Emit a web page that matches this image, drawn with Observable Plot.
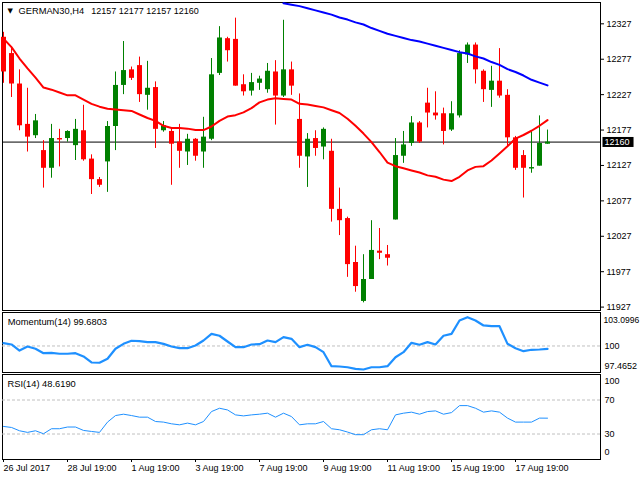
<!DOCTYPE html>
<html><head><meta charset="utf-8">
<script src="https://cdn.jsdelivr.net/npm/d3@7"></script>
<script src="https://cdn.jsdelivr.net/npm/@observablehq/plot@0.6"></script>
<style>
body{margin:0;background:#fff;}
#chart{position:relative;width:640px;height:480px;overflow:hidden;background:#fff;}
#chart svg{position:absolute;left:0;}
</style></head><body><div id="chart"></div>
<script>
const symbol = "GERMAN30,H4";
const opens  = [12308,12285,12242,12185,12169,12148,12123,12165,12165,12155,12176,12136,12107,12132,12182,12240,12262,12268,12226,12237,12176,12175,12160,12146,12164,12146,12164,12257,12306,12305,12241,12232,12243,12234,12259,12225,12262,12192,12139,12165,12153,12147,12065,12052,11990,11935,11966,12006,12001,12050,12140,12158,12187,12215,12201,12200,12177,12197,12283,12297,12260,12233,12246,12226,12166,12141,12122,12126,12157];
const highs  = [12315,12294,12262,12236,12199,12162,12185,12178,12176,12192,12212,12142,12110,12189,12259,12302,12266,12280,12274,12245,12189,12180,12185,12171,12165,12195,12278,12323,12308,12335,12255,12257,12253,12271,12275,12332,12273,12228,12172,12176,12180,12164,12095,12054,12013,12001,12049,12038,12014,12165,12175,12196,12189,12236,12231,12208,12217,12289,12300,12300,12262,12267,12292,12234,12168,12148,12176,12197,12177];
const lows   = [12243,12223,12176,12146,12165,12095,12109,12125,12160,12134,12133,12086,12096,12089,12148,12227,12247,12216,12205,12151,12174,12099,12123,12127,12133,12123,12162,12254,12273,12239,12225,12225,12233,12229,12184,12223,12226,12123,12096,12140,12135,12047,12028,11969,11948,11933,11966,11994,11985,12050,12130,12154,12158,12180,12191,12156,12175,12194,12271,12242,12216,12209,12222,12153,12120,12081,12116,12126,12157];
const closes = [12259,12242,12183,12167,12190,12123,12165,12163,12175,12178,12135,12107,12099,12182,12240,12261,12250,12227,12236,12178,12183,12157,12147,12164,12140,12167,12255,12307,12289,12239,12231,12244,12249,12260,12225,12262,12239,12140,12164,12151,12178,12065,12049,11987,11956,11966,12007,12003,11996,12141,12156,12187,12160,12201,12197,12175,12200,12285,12297,12262,12234,12246,12225,12166,12123,12123,12124,12158,12160];
const maFast = [12306,12294,12278,12264,12251,12237,12234,12230,12226,12226,12220,12214,12210,12207,12206,12205,12204,12199,12194,12190,12183,12180,12180,12179,12177,12177,12182,12190,12196,12198,12202,12208,12216,12220,12222,12221,12220,12214,12213,12211,12209,12205,12201,12193,12183,12172,12160,12146,12131,12126,12123,12120,12117,12113,12111,12107,12105,12111,12120,12125,12126,12134,12144,12154,12165,12170,12176,12183,12191];
const maSlow = [null,null,null,null,null,null,null,null,null,null,null,null,null,null,null,null,null,null,null,null,null,null,null,null,null,null,null,null,null,null,null,null,null,null,null,12356,12354,12352,12349,12346,12343,12340,12336,12333,12329,12326,12321,12317,12313,12310,12307,12304,12302,12299,12296,12293,12290,12287,12285,12281,12278,12273,12269,12263,12259,12254,12248,12244,12240];
const momentum = [100.30,100.16,99.51,99.94,99.70,99.22,99.26,99.16,99.16,99.22,98.87,98.22,98.19,98.62,99.70,100.23,100.56,100.52,100.41,100.41,100.23,99.94,99.76,99.76,100.05,100.59,101.31,101.10,100.48,99.87,99.87,100.16,100.19,100.59,100.41,100.95,100.77,99.87,100.13,99.87,99.33,97.82,97.79,97.71,97.54,97.4652,97.71,97.71,97.82,98.79,99.33,100.34,100.13,100.41,100.16,101.10,101.31,102.75,103.0996,102.75,102.21,102.13,102.13,100.23,99.76,99.44,99.59,99.62,99.6803];
const rsi = [38.9,37.7,33.8,31.9,33.8,30.3,36.2,36.2,38.2,38.2,34.2,33.0,31.9,44.0,51.7,53.3,51.7,49.8,49.8,44.7,44.0,42.0,40.8,42.8,40.8,44.7,56.4,60.3,58.3,52.5,51.3,52.5,53.3,54.5,49.8,54.5,50.5,40.8,42.0,42.0,44.7,36.2,35.0,32.3,29.2,29.2,35.0,36.2,35.0,52.5,54.5,55.7,53.3,56.4,57.2,53.3,55.2,63.4,63.4,60.3,55.7,57.2,55.7,48.7,44.0,44.0,44.0,48.7,48.619];
const priceTicks = [11927,11977,12027,12077,12127,12177,12227,12277,12327];
const xTickIndex = [0,8,16,24,32,40,48,56,64];
const xTickLabels = ["26 Jul 2017","28 Jul 19:00","1 Aug 19:00","3 Aug 19:00","7 Aug 19:00","9 Aug 19:00","11 Aug 19:00","15 Aug 19:00","17 Aug 19:00"];

const FONT = '"Liberation Sans", Arial, sans-serif';
const RED = "#ff0000", GREEN = "#008000", BLUE = "#0000ff", IND = "#1e90ff", GRID = "#c0c0c0";
const xDomain = [-0.125, 74.625];

const bars = opens.map((o, i) => ({i, open: o, high: highs[i], low: lows[i], close: closes[i], up: closes[i] >= o}));
const upBars = bars.filter(d => d.up), downBars = bars.filter(d => !d.up);
const fastPts = maFast.map((v, i) => ({i, v}));
const slowPts = maSlow.map((v, i) => ({i, v})).filter(d => d.v != null);
const momPts = momentum.map((v, i) => ({i, v}));
const rsiPts = rsi.map((v, i) => ({i, v}));
const last = bars[bars.length - 1];
const momMax = d3.max(momentum), momMin = d3.min(momentum);

const baseStyle = {fontFamily: FONT, fontSize: "9px", background: "white", color: "black", overflow: "visible"};
const host = document.getElementById("chart");

// ---------- main price panel ----------
const main = Plot.plot({
  width: 640, height: 312, marginLeft: 2, marginRight: 40, marginTop: 2, marginBottom: 2,
  style: baseStyle,
  x: {domain: xDomain, axis: null},
  y: {domain: [11922.2, 12357.1], axis: null},
  marks: [
    Plot.frame({stroke: "black"}),
    Plot.ruleY([last.close], {stroke: "black"}),
    Plot.ruleX(upBars, {x: "i", y1: "low", y2: "high", stroke: GREEN}),
    Plot.ruleX(downBars, {x: "i", y1: "low", y2: "high", stroke: RED}),
    Plot.ruleX(upBars, {x: "i", y1: "open", y2: "close", stroke: GREEN, strokeWidth: 5}),
    Plot.ruleX(downBars, {x: "i", y1: "open", y2: "close", stroke: RED, strokeWidth: 5}),
    Plot.line(fastPts, {x: "i", y: "v", stroke: RED, strokeWidth: 2}),
    Plot.line(slowPts, {x: "i", y: "v", stroke: BLUE, strokeWidth: 2, clip: true}),
    Plot.axisY({anchor: "right", ticks: priceTicks, tickSize: 3, tickPadding: 3, tickFormat: d => String(d), fontSize: 9, label: null}),
    Plot.text([last.close], {y: d => d, text: d => String(d), frameAnchor: "right", dx: 4, textAnchor: "start", fill: "white", fontSize: 9}),
    Plot.text(["\u25BC"], {text: d => d, frameAnchor: "top-left", dx: 7.7, dy: 8.6, lineAnchor: "middle", textAnchor: "middle", fontSize: 7, fontFamily: "DejaVu Sans"}),
    Plot.text([symbol], {text: d => d, frameAnchor: "top-left", dx: 16, dy: 8.3, lineAnchor: "middle", textAnchor: "start", fontSize: 9.3}),
    Plot.text([`${last.open} ${last.high} ${last.low} ${last.close}`], {text: d => d, frameAnchor: "top-left", dx: 88.7, dy: 8.3, lineAnchor: "middle", textAnchor: "start", fontSize: 9})
  ]
});
main.style.top = "0px";
host.append(main);
// black box behind the current price label (the white text)
{
  const t = Array.from(main.querySelectorAll("text")).find(el => el.textContent === String(last.close) && el.closest('g[fill="white"]'));
  if (t) {
    const bb = t.getBBox();
    const r = document.createElementNS("http://www.w3.org/2000/svg", "rect");
    const tr = t.getAttribute("transform");
    if (tr) r.setAttribute("transform", tr);
    r.setAttribute("x", bb.x - 2);
    r.setAttribute("width", bb.width + 6);
    r.setAttribute("y", bb.y + bb.height / 2 - 5);
    r.setAttribute("height", 10);
    r.setAttribute("fill", "black");
    t.parentNode.insertBefore(r, t);
  }
}

// ---------- momentum panel ----------
const mom = Plot.plot({
  width: 640, height: 62, marginLeft: 2, marginRight: 40, marginTop: 1, marginBottom: 1,
  style: baseStyle,
  x: {domain: xDomain, axis: null},
  y: {domain: [97.142, 103.606], axis: null},
  marks: [
    Plot.frame({stroke: "black"}),
    Plot.ruleY([100], {stroke: GRID, strokeDasharray: "3,2"}),
    Plot.line(momPts, {x: "i", y: "v", stroke: IND, strokeWidth: 2.2}),
    Plot.text([momMax], {y: d => d, text: d => d.toFixed(4), frameAnchor: "right", dx: 3, dy: 3.3, textAnchor: "start", fontSize: 8.6}),
    Plot.text([100], {y: d => d, text: d => String(d), frameAnchor: "right", dx: 4, textAnchor: "start", fontSize: 9}),
    Plot.text([momMin], {y: d => d, text: d => d.toFixed(4), frameAnchor: "right", dx: 4, dy: -3.7, textAnchor: "start", fontSize: 9}),
    Plot.text([`Momentum(14) ${momentum[momentum.length - 1].toFixed(4)}`], {text: d => d, frameAnchor: "top-left", dx: 5.3, dy: 9.7, lineAnchor: "middle", textAnchor: "start", fontSize: 9.3})
  ]
});
mom.style.top = "311px";
host.append(mom);

// ---------- RSI panel ----------
const rsiPlot = Plot.plot({
  width: 640, height: 107, marginLeft: 2, marginRight: 40, marginTop: 1, marginBottom: 21,
  style: baseStyle,
  x: {domain: xDomain, axis: null},
  y: {domain: [0, 100], axis: null},
  marks: [
    Plot.frame({stroke: "black"}),
    Plot.ruleY([70, 30], {stroke: GRID, strokeDasharray: "3,2"}),
    Plot.line(rsiPts, {x: "i", y: "v", stroke: IND, strokeWidth: 1}),
    Plot.text([100], {y: d => d, text: d => String(d), frameAnchor: "right", dx: 4, dy: 7, textAnchor: "start", fontSize: 9}),
    Plot.text([70, 30], {y: d => d, text: d => String(d), frameAnchor: "right", dx: 4, textAnchor: "start", fontSize: 9}),
    Plot.text([0], {y: d => d, text: d => String(d), frameAnchor: "right", dx: 4, dy: -7, textAnchor: "start", fontSize: 9}),
    Plot.text([`RSI(14) ${rsi[rsi.length - 1].toFixed(4)}`], {text: d => d, frameAnchor: "top-left", dx: 5, dy: 9.3, lineAnchor: "middle", textAnchor: "start", fontSize: 9.3}),
    Plot.axisX({ticks: xTickIndex, tickFormat: d => xTickLabels[xTickIndex.indexOf(d)], tickSize: 3, tickPadding: 2, textAnchor: "start", fontSize: 9, anchor: "bottom", label: null})
  ]
});
rsiPlot.style.top = "373px";
host.append(rsiPlot);
</script></body></html>
